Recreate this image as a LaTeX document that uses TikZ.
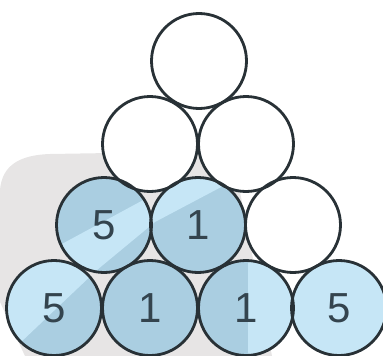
\documentclass[tikz,border=0pt]{standalone}
\usepackage{fontspec}
\setmainfont{Liberation Sans}
\usetikzlibrary{backgrounds}
\definecolor{ballline}{HTML}{283136}
\definecolor{balldark}{HTML}{AACEE1}
\definecolor{balllight}{HTML}{C6E6F6}
\definecolor{numgray}{HTML}{34444E}
\definecolor{shadegray}{HTML}{E7E5E5}

\begin{document}
\begin{tikzpicture}[x=1pt,y=-1pt,line cap=round,line join=round,
  ball/.style={circle,draw=ballline,line width=2.8pt,minimum size=95pt,inner sep=0pt,
    text=numgray,font=\fontsize{42}{42}\selectfont}]
  \useasboundingbox (0,0) rectangle (383,356);
  \node[ball] (A) at (199,61) {};
  \node[ball] (B1) at (150,144) {};
  \node[ball] (B2) at (246,144) {};
  \node[ball] (C1) at (104,225) {5};
  \node[ball] (C2) at (198,225) {1};
  \node[ball] (C3) at (293,225) {};
  \node[ball] (D1) at (54,308) {5};
  \node[ball] (D2) at (150,308) {1};
  \node[ball] (D3) at (246,308) {1};
  \node[ball] (D4) at (339,308) {5};
  \begin{scope}[on background layer]
    \fill[shadegray] (0,190) .. controls (2,165) and (20,155) .. (50,154) -- (232,151)
      -- (272,356) -- (25,356) -- (0,302) -- cycle;
    \fill[white] (A.center) circle (47.5) (B1.center) circle (47.5)
      (B2.center) circle (47.5) (C3.center) circle (47.5);
    \fill[balldark] (C1.center) circle (47.5) (C2.center) circle (47.5)
      (D1.center) circle (47.5) (D2.center) circle (47.5)
      (D3.center) circle (47.5) (D4.center) circle (47.5);
    \begin{scope}
      \clip (C1.center) circle (47.5) (C2.center) circle (47.5)
        (D1.center) circle (47.5) (D2.center) circle (47.5)
        (D3.center) circle (47.5) (D4.center) circle (47.5);
      \fill[balllight] (0,262) -- (60,245) -- (147,198) -- (200,150) -- (300,150)
        -- (225,185) -- (155,222) -- (97,270) -- (20,343) -- (0,362) -- cycle;
      \fill[balllight] (248,262) rectangle (383,356);
      \fill[balllight] (0,335) -- (50,356) -- (0,356) -- cycle;
    \end{scope}
  \end{scope}
\end{tikzpicture}
\end{document}
